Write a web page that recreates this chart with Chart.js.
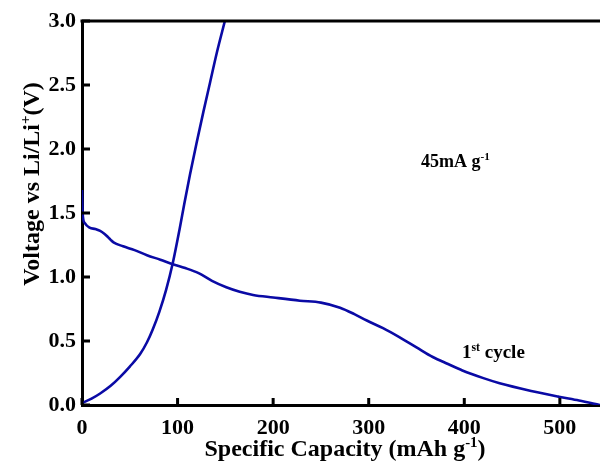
<!DOCTYPE html>
<html lang="en">
<head>
  <meta charset="UTF-8">
  <title>Voltage profile</title>
  <script src="https://cdn.jsdelivr.net/npm/chart.js"></script>
  <style>
    html, body { margin: 0; padding: 0; background: #fff; }
    #wrap { width: 600px; height: 468px; }
  </style>
</head>
<body>
  <div id="wrap"><canvas id="cv" width="600" height="468"></canvas></div>
  <script>
    // discharge (1st cycle)
    const capDischarge = [0, 0.4, 1, 3, 8, 14, 19, 23, 26, 30, 33, 43, 55, 68, 82, 95, 108, 122, 136, 151, 165, 179, 200, 228, 250, 270, 285, 298, 315, 332, 350, 367, 383, 398, 420, 437, 470, 499, 520, 542];
    const voltDischarge = [1.68, 1.56, 1.47, 1.42, 1.385, 1.375, 1.36, 1.34, 1.32, 1.29, 1.27, 1.24, 1.21, 1.17, 1.135, 1.10, 1.07, 1.03, 0.97, 0.92, 0.885, 0.86, 0.84, 0.815, 0.80, 0.76, 0.71, 0.66, 0.60, 0.53, 0.45, 0.375, 0.32, 0.27, 0.21, 0.17, 0.11, 0.065, 0.035, 0.0];
    // charge
    const capCharge = [0, 10, 19, 30, 40, 50, 61, 68, 74, 81, 88, 95, 102, 107, 113, 120, 127, 134, 141, 149.5];
    const voltCharge = [0.015, 0.05, 0.09, 0.15, 0.22, 0.30, 0.40, 0.49, 0.59, 0.73, 0.90, 1.11, 1.37, 1.57, 1.80, 2.05, 2.29, 2.52, 2.75, 3.0];

    const xTicks = [0, 100, 200, 300, 400, 500];
    const yTicks = [0, 0.5, 1.0, 1.5, 2.0, 2.5, 3.0];

    const FONT = "'Liberation Serif', 'Times New Roman', serif";
    const lineColor = '#0a0aa5';

    const pts = (xs, ys) => xs.map((x, i) => ({ x: x, y: ys[i] }));

    // draw text with superscript pieces
    function richText(ctx, parts, x, y, size) {
      let cx = x;
      parts.forEach(p => {
        const s = p.sup ? size * 0.62 : size;
        ctx.font = 'bold ' + s + 'px ' + FONT;
        ctx.fillText(p.t, cx, p.sup ? y - size * 0.38 : y);
        cx += ctx.measureText(p.t).width;
      });
    }
    function richWidth(ctx, parts, size) {
      let w = 0;
      parts.forEach(p => {
        ctx.font = 'bold ' + (p.sup ? size * 0.62 : size) + 'px ' + FONT;
        w += ctx.measureText(p.t).width;
      });
      return w;
    }

    const decor = {
      id: 'decor',
      afterDraw(chart) {
        const ctx = chart.ctx;
        const xs = chart.scales.x, ys = chart.scales.y;
        const a = chart.chartArea;
        ctx.save();
        ctx.strokeStyle = '#000';
        ctx.lineWidth = 3;
        // top frame line
        ctx.beginPath();
        ctx.moveTo(a.left - 1.5, a.top);
        ctx.lineTo(a.right, a.top);
        ctx.stroke();
        // inward ticks
        ctx.beginPath();
        xTicks.forEach(v => {
          const px = xs.getPixelForValue(v);
          ctx.moveTo(px, a.bottom);
          ctx.lineTo(px, a.bottom - 7);
        });
        yTicks.forEach(v => {
          const py = ys.getPixelForValue(v);
          ctx.moveTo(a.left, py);
          ctx.lineTo(a.left + 8, py);
        });
        ctx.stroke();

        ctx.fillStyle = '#000';
        ctx.textBaseline = 'alphabetic';
        ctx.textAlign = 'left';

        // x title
        const xt = [{ t: 'Specific Capacity (mAh g' }, { t: '-1', sup: true }, { t: ')' }];
        const xsz = 24;
        const xw = richWidth(ctx, xt, xsz);
        richText(ctx, xt, 345 - xw / 2, 456, xsz);

        // y title
        const yt = [{ t: 'Voltage vs Li/Li' }, { t: '+', sup: true }, { t: '(V)' }];
        const ysz = 24;
        const yw = richWidth(ctx, yt, ysz);
        ctx.save();
        ctx.translate(39, 184);
        ctx.rotate(-Math.PI / 2);
        richText(ctx, yt, -yw / 2, 0, ysz);
        ctx.restore();

        // annotations
        richText(ctx, [{ t: '45mA g' }, { t: '-1', sup: true }], 421, 167, 18);
        richText(ctx, [{ t: '1' }, { t: 'st', sup: true }, { t: ' cycle' }], 462, 358, 19);
        ctx.restore();
      }
    };

    new Chart(document.getElementById('cv'), {
      type: 'line',
      data: {
        datasets: [
          {
            label: 'discharge',
            data: pts(capDischarge, voltDischarge),
            borderColor: lineColor,
            borderWidth: 2.6,
            pointRadius: 0,
            cubicInterpolationMode: 'monotone'
          },
          {
            label: 'charge',
            data: pts(capCharge, voltCharge),
            borderColor: lineColor,
            borderWidth: 2.6,
            pointRadius: 0,
            cubicInterpolationMode: 'monotone'
          }
        ]
      },
      options: {
        responsive: false,
        animation: false,
        layout: { padding: { top: 21, left: 0, right: 0, bottom: 0 } },
        plugins: { legend: { display: false }, tooltip: { enabled: false } },
        scales: {
          x: {
            type: 'linear',
            min: 0,
            max: 542,
            afterFit: s => { s.height = 63; },
            afterBuildTicks: s => { s.ticks = xTicks.map(v => ({ value: v })); },
            ticks: {
              color: '#000',
              padding: 10,
              font: { family: FONT, size: 22, weight: 'bold' },
              maxRotation: 0
            },
            grid: { display: true, drawOnChartArea: false, drawTicks: false },
            border: { display: true, color: '#000', width: 3 }
          },
          y: {
            min: 0,
            max: 3.0,
            afterFit: s => { s.width = 82; },
            afterBuildTicks: s => { s.ticks = yTicks.map(v => ({ value: v })); },
            ticks: {
              color: '#000',
              padding: 6,
              font: { family: FONT, size: 22, weight: 'bold' },
              callback: v => v.toFixed(1)
            },
            grid: { display: true, drawOnChartArea: false, drawTicks: false },
            border: { display: true, color: '#000', width: 3 }
          }
        }
      },
      plugins: [decor]
    });
  </script>
</body>
</html>
